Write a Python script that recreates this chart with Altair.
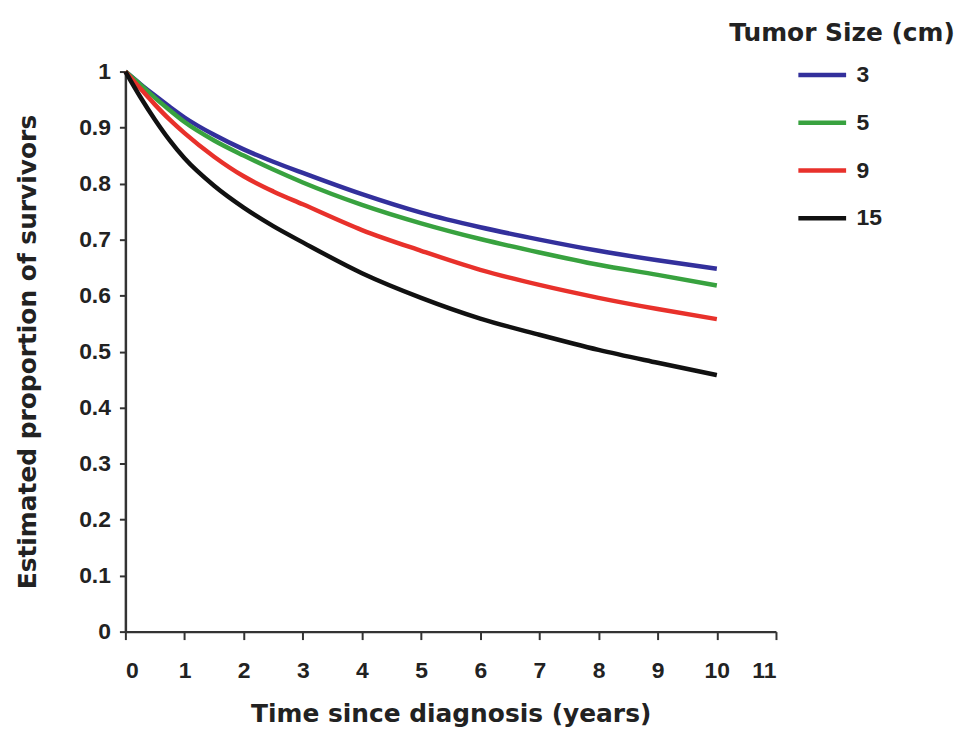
import altair as alt
import pandas as pd

years = [0, 0.25, 0.5, 0.75, 1, 1.5, 2, 2.5, 3, 4, 5, 6, 7, 8, 9, 10]
size_3 = [1.0, 0.978, 0.957, 0.937, 0.918, 0.887, 0.861, 0.839, 0.819, 0.781, 0.748, 0.722, 0.700, 0.680, 0.663, 0.648]
size_5 = [1.0, 0.977, 0.953, 0.931, 0.910, 0.877, 0.850, 0.825, 0.802, 0.762, 0.729, 0.701, 0.677, 0.655, 0.637, 0.618]
size_9 = [1.0, 0.970, 0.941, 0.914, 0.890, 0.848, 0.813, 0.786, 0.763, 0.717, 0.680, 0.646, 0.619, 0.596, 0.576, 0.558]
size_15 = [1.0, 0.955, 0.914, 0.877, 0.845, 0.796, 0.757, 0.724, 0.695, 0.640, 0.596, 0.559, 0.530, 0.503, 0.480, 0.458]

sizes = ["3", "5", "9", "15"]
colors = ["#33309c", "#38a23f", "#e8312b", "#111111"]
series = [size_3, size_5, size_9, size_15]

rows = []
for s, vals in zip(sizes, series):
    for t, v in zip(years, vals):
        rows.append({"Time": t, "Survival": v, "Tumor Size (cm)": s})
df = pd.DataFrame(rows)

label_font = "Liberation Sans"
title_font = "DejaVu Sans"

chart = alt.Chart(df).mark_line(strokeWidth=4.5, interpolate="monotone").encode(
    x=alt.X("Time:Q",
            scale=alt.Scale(domain=[0, 11], nice=False, zero=False),
            axis=alt.Axis(title="Time since diagnosis (years)",
                          values=list(range(0, 12)), format="d",
                          grid=False, tickSize=8, labelPadding=20,
                          titlePadding=19)),
    y=alt.Y("Survival:Q",
            scale=alt.Scale(domain=[0, 1], nice=False),
            axis=alt.Axis(title="Estimated proportion of survivors",
                          values=[0, 0.1, 0.2, 0.3, 0.4, 0.5, 0.6, 0.7, 0.8, 0.9, 1],
                          format="~g", grid=False, tickSize=6, labelPadding=9,
                          titlePadding=38)),
    color=alt.Color("Tumor Size (cm):N",
                    scale=alt.Scale(domain=sizes, range=colors),
                    sort=sizes,
                    legend=alt.Legend(orient="none", legendX=607, legendY=-51,
                                      symbolType="stroke", symbolSize=2304,
                                      symbolStrokeWidth=4.5, symbolOffset=67,
                                      labelOffset=8, rowPadding=9,
                                      titlePadding=3)),
).properties(
    width=654,
    height=563,
    autosize=alt.AutoSizeParams(type="none"),
    padding={"left": 118, "top": 62, "right": 188, "bottom": 96},
).configure_view(
    stroke=None
).configure_axis(
    labelFont=label_font, labelFontWeight="bold", labelFontSize=23, labelColor="#222222",
    titleFont=title_font, titleFontWeight="bold", titleFontSize=25, titleColor="#222222",
    domainColor="#333333", domainWidth=2.5, tickColor="#333333", tickWidth=2,
).configure_legend(
    titleFont=title_font, titleFontWeight="bold", titleFontSize=25, titleColor="#222222",
    labelFont=label_font, labelFontWeight="bold", labelFontSize=23, labelColor="#222222",
    titleLimit=400,
)

chart.save("out.html", embed_options={"renderer": "svg", "actions": False})
